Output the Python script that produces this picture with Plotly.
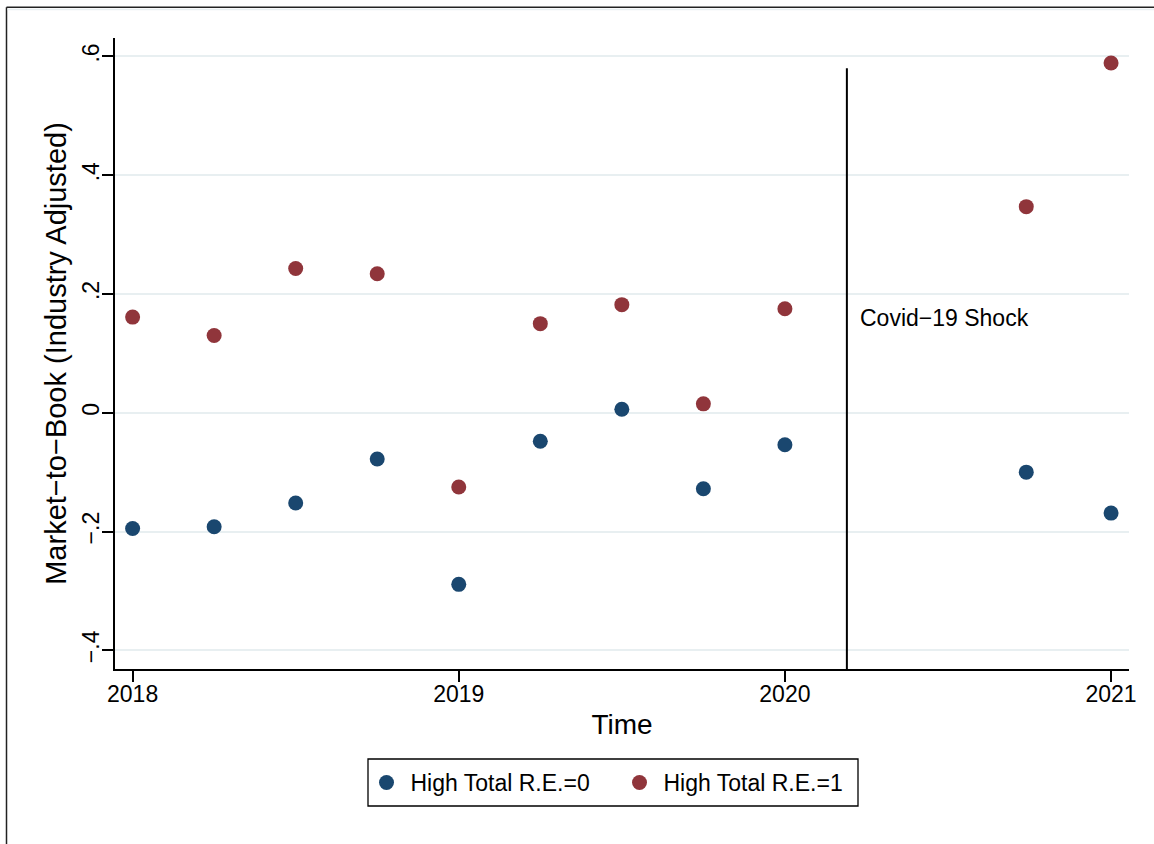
import plotly.graph_objects as go

# ---- data ----
time = [2018.0, 2018.25, 2018.5, 2018.75, 2019.0, 2019.25, 2019.5, 2019.75, 2020.0, 2020.74, 2021.0]
re0 = [-0.195, -0.192, -0.152, -0.078, -0.289, -0.048, 0.006, -0.128, -0.054, -0.100, -0.169]
re1 = [0.161, 0.130, 0.243, 0.234, -0.125, 0.150, 0.182, 0.015, 0.175, 0.347, 0.589]
series_names = ["High Total R.E.=0", "High Total R.E.=1"]
x_ticks = [2018, 2019, 2020, 2021]
y_ticks = [-0.4, -0.2, 0, 0.2, 0.4, 0.6]
y_ticktext = ["\u2212.4", "\u2212.2", "0", ".2", ".4", ".6"]
shock_x = 2020.19
shock_top = 0.58
shock_label = "Covid\u221219 Shock"

NAVY = "#1A476F"
MAROON = "#90353B"
FONT = "Liberation Sans, Arial, Helvetica, sans-serif"

W, H = 1154, 844
L, R, T, B = 115, 25, 38, 175
pw, ph = W - L - R, H - T - B

def px_x(p):
    return (p - L) / pw

def px_y(p):
    return (H - B - p) / ph

fig = go.Figure()
fig.add_trace(go.Scatter(x=time, y=re0, mode="markers", name=series_names[0],
                         marker=dict(color=NAVY, size=15, line=dict(width=0))))
fig.add_trace(go.Scatter(x=time, y=re1, mode="markers", name=series_names[1],
                         marker=dict(color=MAROON, size=15, line=dict(width=0))))

# Covid shock line
fig.add_shape(type="line", xref="x", yref="y", x0=shock_x, x1=shock_x,
              y0=-0.4315, y1=shock_top, line=dict(color="black", width=2))
fig.add_annotation(x=shock_x, y=0.16, xref="x", yref="y", text=shock_label,
                   showarrow=False, xanchor="left", yanchor="middle", xshift=11,
                   font=dict(size=23, color="black", family=FONT))

# outer graph-region frame (partially visible)
fig.add_shape(type="line", xref="paper", yref="paper", x0=px_x(6.5), x1=px_x(1160),
              y0=px_y(7.3), y1=px_y(7.3), line=dict(color="#222222", width=1.5))
fig.add_shape(type="line", xref="paper", yref="paper", x0=px_x(6.5), x1=px_x(6.5),
              y0=px_y(7.3), y1=px_y(850), line=dict(color="#222222", width=1.5))
fig.add_shape(type="line", xref="paper", yref="paper", x0=px_x(7.5), x1=px_x(1160),
              y0=px_y(9.6), y1=px_y(9.6), line=dict(color="#E9F0F2", width=1.5))

# legend frame
fig.add_shape(type="rect", xref="paper", yref="paper", x0=px_x(368), x1=px_x(858),
              y0=px_y(806), y1=px_y(759), line=dict(color="black", width=1.3))

fig.update_layout(
    width=W, height=H,
    margin=dict(l=L, r=R, t=T, b=B),
    paper_bgcolor="white", plot_bgcolor="white",
    font=dict(family=FONT, color="black"),
    showlegend=True,
    legend=dict(orientation="h", x=px_x(615.5), xanchor="center", y=px_y(761), yanchor="top",
                font=dict(size=23, family=FONT), borderwidth=0, itemwidth=38,
                entrywidth=200, entrywidthmode="pixels", bgcolor="rgba(0,0,0,0)"),
    xaxis=dict(range=[2017.946, 2021.055], tickvals=x_ticks, ticktext=[str(v) for v in x_ticks],
               showgrid=False, zeroline=False, showline=True, linecolor="black", linewidth=1.5,
               ticks="outside", ticklen=11, tickwidth=1.5, tickcolor="black",
               tickfont=dict(size=23), ticklabelstandoff=-7,
               title=dict(text="Time", font=dict(size=28), standoff=8)),
    yaxis=dict(range=[-0.4315, 0.631], tickvals=y_ticks, ticktext=y_ticktext, tickangle=-90,
               showgrid=True, gridcolor="#E8EFF1", gridwidth=2, zeroline=False,
               showline=True, linecolor="black", linewidth=1.5,
               ticks="outside", ticklen=11, tickwidth=1.5, tickcolor="black",
               tickfont=dict(size=23), ticklabelstandoff=-6,
               title=dict(text="Market\u2212to\u2212Book (Industry Adjusted)", font=dict(size=29), standoff=3)),
)

fig.write_html("out.html", config={"displayModeBar": False},
               post_script="document.body.style.margin='0';")
